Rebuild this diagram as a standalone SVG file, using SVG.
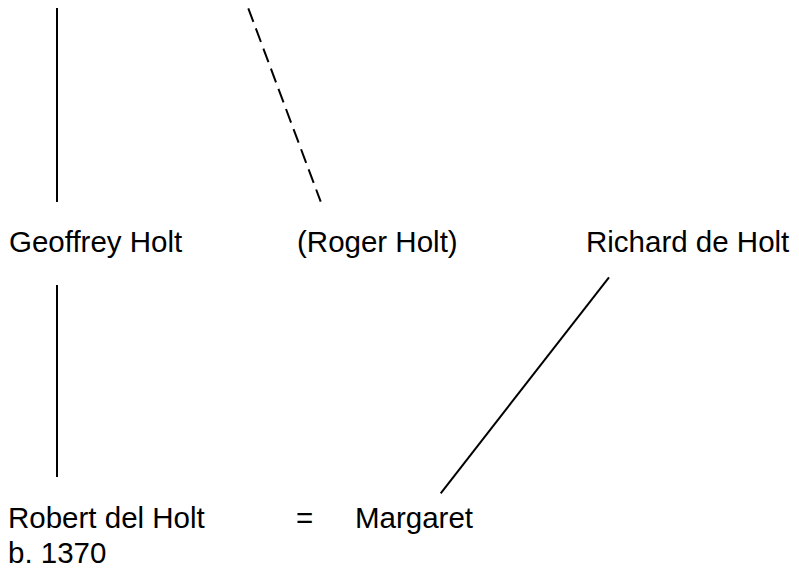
<svg xmlns="http://www.w3.org/2000/svg" width="799" height="571" viewBox="0 0 799 571">
  <style>
    .lbl { font-family: "Liberation Sans", Arial, sans-serif; font-size: 29.5px; fill: #000; }
    .ln { stroke: #000; stroke-width: 2; fill: none; }
    .dash { stroke-dasharray: 14.5 7; }
  </style>
  <rect width="799" height="571" fill="#fff"/>
  <g id="connectors">
    <line class="ln" x1="57" y1="8" x2="57" y2="202"/>
    <line class="ln dash" x1="248.3" y1="8.3" x2="320.7" y2="201.7"/>
    <line class="ln" x1="57" y1="285" x2="57" y2="477"/>
    <line class="ln" x1="609" y1="277.3" x2="440.7" y2="493.3"/>
  </g>
  <g id="geoffrey">
    <text class="lbl" x="9" y="252">Geoffrey Holt</text>
  </g>
  <g id="roger">
    <text class="lbl" x="297" y="252">(Roger Holt)</text>
  </g>
  <g id="richard">
    <text class="lbl" x="586" y="252">Richard de Holt</text>
  </g>
  <g id="robert">
    <text class="lbl" x="8" y="528">Robert del Holt</text>
    <text class="lbl" x="8" y="563">b. 1370</text>
  </g>
  <g id="marriage">
    <text class="lbl" x="296" y="528">=</text>
  </g>
  <g id="margaret">
    <text class="lbl" x="355" y="528">Margaret</text>
  </g>
</svg>
